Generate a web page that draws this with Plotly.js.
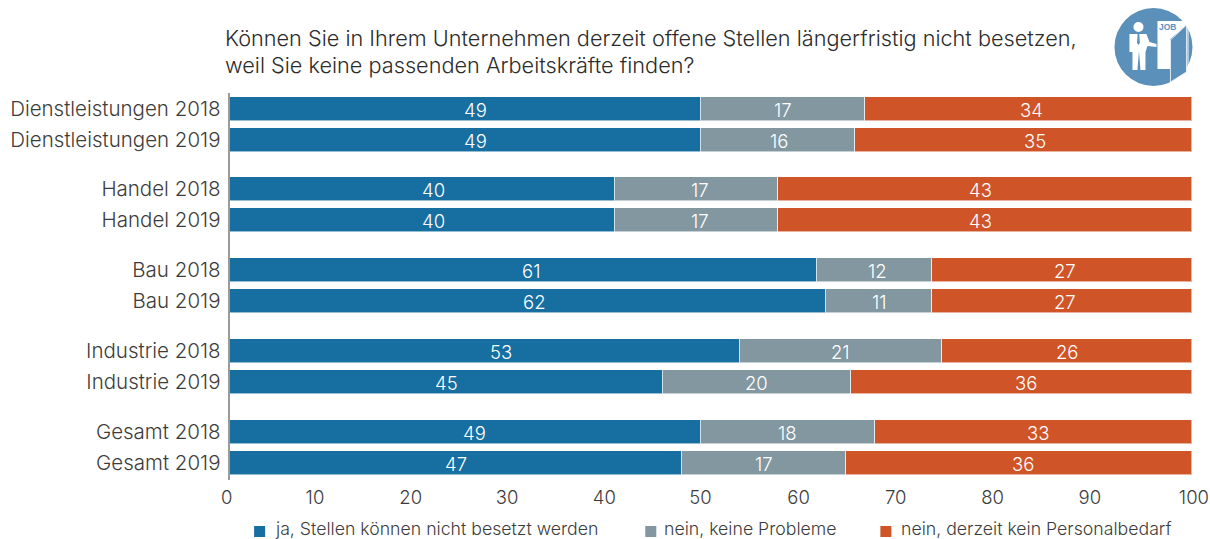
<!DOCTYPE html>
<html>
<head>
<meta charset="utf-8">
<script src="https://cdn.plot.ly/plotly-3.0.1.min.js"></script>
<style>html,body{margin:0;padding:0;background:#fff}#chart{width:1210px;height:539px}</style>
</head>
<body>
<div id="chart"></div>
<script>
var categories = ["Dienstleistungen 2018","Dienstleistungen 2019","Handel 2018","Handel 2019","Bau 2018","Bau 2019","Industrie 2018","Industrie 2019","Gesamt 2018","Gesamt 2019"];
var jaValues = [49,49,40,40,61,62,53,45,49,47];
var neinValues = [17,16,17,17,12,11,21,19.5,18,17];
var keinValues = [34,35,43,43,27,27,26,35.5,33,36];
var seriesNames = ["ja, Stellen können nicht besetzt werden","nein, keine Probleme","nein, derzeit kein Personalbedarf"];
var seriesColors = ["#166ea1","#82979f","#cf5428"];
var tickLabels = ["0","10","20","30","40","50","60","70","80","90","100"];
var titleLines = ["Können Sie in Ihrem Unternehmen derzeit offene Stellen längerfristig nicht besetzen,","weil Sie keine passenden Arbeitskräfte finden?"];

/* Layout details: the reference prints its tick labels and some bar labels off-centre */
var tickPlaces = [-0.31,8.85,18.8,28.82,38.92,48.9,59.1,69.2,79.26,89.36,100.18];
var labelShift = [[10,10,11,11,8,6,16,0,9,0],[0,1,3,3,3,0,0,0,0,0],[3,11,-5,-5,3,3,0,5,5,4]];

var FONT = "Inter, Liberation Sans, Arial, sans-serif";
var WEIGHT = 300;
var rowSlot = categories.map(function(c,i){ return Math.floor(i/2)*80.8 + (i%2)*31; });
var U = 9.62, L = 229.7-0.5*U, W = 101*U, T = 93, H = 387;
function px(x){ return (x-L)/W; }
function py(y){ return (T+H-y)/H; }

var all=[jaValues,neinValues,keinValues];
var traces=all.map(function(vals,k){
  return {type:"bar",orientation:"h",name:seriesNames[k],x:vals,y:rowSlot,width:24,
    marker:{color:seriesColors[k],line:{color:"rgba(255,255,255,0.55)",width:1}},
    hoverinfo:"x+name",showlegend:false};
});

var annotations=[];
all.forEach(function(vals,k){
  vals.forEach(function(v,i){
    var base=0; for(var j=0;j<k;j++){ base+=all[j][i]; }
    annotations.push({xref:"x",yref:"y",x:base+v/2,y:rowSlot[i],xanchor:"center",yanchor:"middle",xshift:labelShift[k][i],yshift:-1,
      text:String(Math.round(v)),showarrow:false,font:{size:18.5,color:"#ffffff",family:FONT,weight:WEIGHT}});
  });
});
var legendSquareX=[254,645,880], legendTextX=[275,664,901];
seriesNames.forEach(function(n,k){
  annotations.push({xref:"paper",yref:"paper",x:px(legendTextX[k]),y:py(528.5),xanchor:"left",yanchor:"middle",borderpad:0,borderwidth:0,
    text:n,showarrow:false,font:{size:17.7,color:"#3c3c3c",family:FONT,weight:WEIGHT}});
});
titleLines.forEach(function(t,i){
  annotations.push({xref:"paper",yref:"paper",x:px(224),y:py(38+i*26.5),xanchor:"left",yanchor:"middle",borderpad:0,
    text:t,showarrow:false,font:{size:21.7,color:"#2c2c2c",family:FONT,weight:WEIGHT}});
});
annotations.push({xref:"paper",yref:"paper",x:px(1167.5),y:py(27),xanchor:"center",yanchor:"middle",borderpad:0,
  text:"<b>JOB</b>",showarrow:false,font:{size:8.5,color:"#5b90bb",family:"Liberation Sans, Arial, sans-serif"}});

var shapes=seriesColors.map(function(c,k){
  return {type:"rect",xref:"paper",yref:"paper",x0:px(legendSquareX[k]),x1:px(legendSquareX[k]+11),
    y0:py(537),y1:py(526),fillcolor:c,line:{width:0}};
});
var icon='<svg xmlns="http://www.w3.org/2000/svg" width="80" height="80" viewBox="0 0 80 80">'+
 '<circle cx="40" cy="40" r="39" fill="#5b90bb"/>'+
 '<circle cx="25" cy="20" r="5" fill="#fff"/>'+
 '<path d="M16 27 L33 27 L36 35 L43 37 L43 40 L34 39 L32 45 L32 63 L27 63 L25.5 44 L24 63 L19 63 L19 45 L16 45 Z" fill="#fff"/>'+
 '<path d="M24.2 26 L25.8 26 L26.4 36 L25 38 L23.6 36 Z" fill="#5b90bb"/>'+
 '<path d="M44 14 L73 14 L73 18 L57 32 L57 62 L44 62 Z" fill="#fff"/>'+
 '<path d="M57 33 L73 18 L73 65 L57 75 Z" fill="#5b90bb" stroke="#fff" stroke-width="0.8"/>'+
 '<path d="M74 20 L75 20 L75 60 L74 60 Z" fill="#fff"/>'+
 '</svg>';

var layout={
  width:1210,height:539,paper_bgcolor:"#fff",plot_bgcolor:"#fff",
  barmode:"stack",bargap:0,showlegend:false,
  margin:{l:L,r:1210-L-W,t:T,b:539-T-H,pad:0},
  font:{family:FONT,color:"#3c3c3c",size:17.5},
  xaxis:{range:[-0.5,100.5],tickmode:"array",tickvals:tickPlaces,ticktext:tickLabels,ticks:"outside",ticklen:1,tickcolor:"rgba(0,0,0,0)",
    showgrid:false,zeroline:false,showline:false,tickfont:{size:18.5,color:"#3c3c3c",family:FONT,weight:WEIGHT},automargin:false},
  yaxis:{range:[371.5,-15.5],tickmode:"array",tickvals:rowSlot,ticktext:categories,ticks:"outside",ticklen:3,tickcolor:"rgba(0,0,0,0)",
    showgrid:false,zeroline:false,anchor:"free",position:0.5/101-1.2/W,
    showline:true,linecolor:"#9a9a9a",linewidth:2,tickfont:{size:20.5,color:"#3c3c3c",family:FONT,weight:WEIGHT},automargin:false},
  annotations:annotations,shapes:shapes,
  images:[{source:"data:image/svg+xml;utf8,"+encodeURIComponent(icon),xref:"paper",yref:"paper",
    x:px(1113),y:py(7),sizex:80/W,sizey:80/H,xanchor:"left",yanchor:"top",sizing:"stretch",layer:"above"}]
};
Plotly.newPlot("chart",traces,layout,{displayModeBar:false,responsive:false});
</script>
</body>
</html>
